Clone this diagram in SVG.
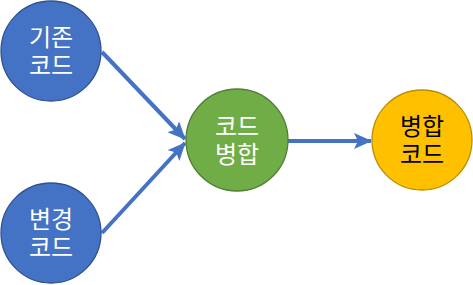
<svg xmlns="http://www.w3.org/2000/svg" width="473" height="285" viewBox="0 0 473 285">
<defs>
<style>
.t{font-family:"Liberation Sans","Noto Sans CJK KR",sans-serif;font-size:24px;text-anchor:middle}
.w{fill:#fff}
.k{fill:#000}
.c{stroke-width:1.3}
.e{stroke:#4472C4;stroke-width:4;fill:none}
</style>
<marker id="ah" markerUnits="userSpaceOnUse" markerWidth="18" markerHeight="16" refX="17" refY="8" orient="auto">
<path d="M0,0 L18,8 L0,16 L4,8 Z" fill="#4472C4"/>
</marker>
</defs>
<rect width="473" height="285" fill="#fff"/>
<g id="connectors">
<line class="e" x1="102" y1="52" x2="185" y2="139" marker-end="url(#ah)"/>
<line class="e" x1="102" y1="233" x2="185" y2="143" marker-end="url(#ah)"/>
<line class="e" x1="288" y1="141" x2="371" y2="141" marker-end="url(#ah)"/>
</g>
<g id="n1">
<circle class="c" cx="51" cy="51" r="50" fill="#4472C4" stroke="#2F528F"/>
<text class="t w" x="51" y="46">기존<tspan x="51" dy="28">코드</tspan></text>
</g>
<g id="n2">
<circle class="c" cx="51" cy="233" r="50" fill="#4472C4" stroke="#2F528F"/>
<text class="t w" x="51" y="228">변경<tspan x="51" dy="28">코드</tspan></text>
</g>
<g id="n3">
<circle class="c" cx="237" cy="140" r="51" fill="#70AD47" stroke="#507E32"/>
<text class="t w" x="237" y="135">코드<tspan x="237" dy="28">병합</tspan></text>
</g>
<g id="n4">
<circle class="c" cx="422" cy="140" r="50" fill="#FFC000" stroke="#BC8C00"/>
<text class="t k" x="422" y="135">병합<tspan x="422" dy="28">코드</tspan></text>
</g>
</svg>
